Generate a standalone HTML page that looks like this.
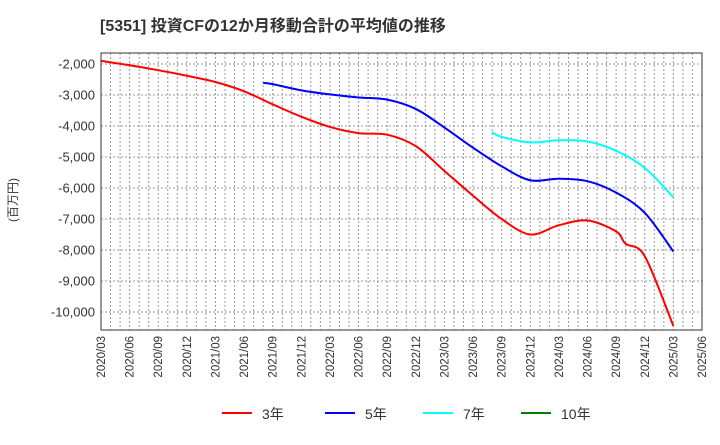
<!DOCTYPE html>
<html><head><meta charset="utf-8"><style>
body{margin:0;background:#fff;font-family:"Liberation Sans","Noto Sans CJK JP",sans-serif;}
</style></head><body>
<svg width="720" height="440" xmlns="http://www.w3.org/2000/svg" font-family="Liberation Sans, Noto Sans CJK JP, sans-serif">
<text x="100" y="31" font-size="16" font-weight="bold" fill="#333">[5351]  投資CFの12か月移動合計の平均値の推移</text>
<text transform="translate(17,200) rotate(-90)" font-size="12" fill="#333" text-anchor="middle">(百万円)</text>
<g id="grid"></g><g id="axes"></g><g id="series"></g>
<rect x="101" y="53" width="601" height="277" fill="none" stroke="#333" stroke-width="1"/>
<g id="legend"></g>
</svg>
<script>
const xLabels=["2020/03","2020/06","2020/09","2020/12","2021/03","2021/06","2021/09","2021/12","2022/03","2022/06","2022/09","2022/12","2023/03","2023/06","2023/09","2023/12","2024/03","2024/06","2024/09","2024/12","2025/03","2025/06"];
const yTicks=[-2000,-3000,-4000,-5000,-6000,-7000,-8000,-9000,-10000];
const red3Months=[0,3,6,9,12,15,18,21,24,27,30,33,36,39,42,45,48,51,54,55,57,60];
const red3Values=[-1900,-2040,-2200,-2380,-2580,-2880,-3300,-3700,-4030,-4230,-4280,-4650,-5450,-6250,-7000,-7500,-7200,-7050,-7400,-7800,-8200,-10450];
const blue5Months=[17,18,21,24,27,30,33,36,39,42,45,48,51,54,57,60];
const blue5Values=[-2610,-2650,-2850,-2980,-3080,-3150,-3450,-4050,-4700,-5300,-5750,-5700,-5780,-6150,-6800,-8050];
const cyan7Months=[41,42,45,48,51,54,57,60];
const cyan7Values=[-4200,-4350,-4530,-4460,-4500,-4800,-5350,-6300];
const green10Months=[];
const green10Values=[];
const X0=101,X1=702,Y0=53,Y1=330,NM=63;
const xs=m=>X0+m*(X1-X0)/NM;
const ys=v=>64+(-2000-v)*31/1000;
const NS="http://www.w3.org/2000/svg";
function mk(t,a,p){const e=document.createElementNS(NS,t);for(const k in a)e.setAttribute(k,a[k]);p.appendChild(e);return e;}
const grid=document.getElementById('grid'),axes=document.getElementById('axes'),ser=document.getElementById('series'),leg=document.getElementById('legend');
for(let m=1;m<NM;m++){const l=mk('line',{x1:xs(m),x2:xs(m),y1:Y0,y2:Y1,stroke:'#999','stroke-dasharray':'2,2','stroke-width':1},grid);

}
yTicks.forEach(v=>{const l=mk('line',{x1:X0,x2:X1,y1:ys(v),y2:ys(v),stroke:'#999','stroke-dasharray':'2,2','stroke-width':1},grid);


const t=mk('text',{x:X0-6,y:ys(v)+4.5,'font-size':13,fill:'#333','text-anchor':'end'},axes);


t.textContent=v.toLocaleString('en-US');});
xLabels.forEach((s,i)=>{const x=xs(i*3);const t=mk('text',{transform:`translate(${x+4},${Y1+6}) rotate(-90)`,'font-size':11.5,fill:'#333','text-anchor':'end'},axes);


t.textContent=s;});
function path(ms,vs){const p=ms.map((m,i)=>[xs(m),ys(vs[i])]);if(!p.length)return'';let d=`M${p[0][0]},${p[0][1]}`;
for(let i=0;i<p.length-1;i++){const a=p[i-1]||p[i],b=p[i],c=p[i+1],e=p[i+2]||c;
d+=` C${b[0]+(c[0]-a[0])/6},${b[1]+(c[1]-a[1])/6} ${c[0]-(e[0]-b[0])/6},${c[1]-(e[1]-b[1])/6} ${c[0]},${c[1]}`;}return d;}
[[red3Months,red3Values,'#ff0000','series-3yr'],[blue5Months,blue5Values,'#0000ff','series-5yr'],[cyan7Months,cyan7Values,'#00ffff','series-7yr'],[green10Months,green10Values,'#008000','series-10yr']].forEach(s=>{
if(!s[0].length)return;const p=mk('path',{d:path(s[0],s[1]),fill:'none',stroke:s[2],'stroke-width':2},ser);

});
[['3年','#ff0000',222],['5年','#0000ff',325],['7年','#00ffff',423],['10年','#008000',521]].forEach(l=>{
const g=mk('g',{},leg);


mk('line',{x1:l[2],x2:l[2]+30,y1:413,y2:413,stroke:l[1],'stroke-width':2},g);
const t=mk('text',{x:l[2]+40,y:419,'font-size':14,fill:'#333'},g);t.textContent=l[0];});
</script>
</body></html>
